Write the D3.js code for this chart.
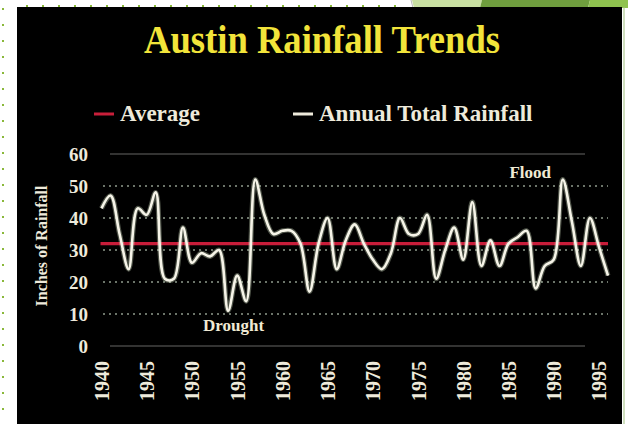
<!DOCTYPE html>
<html><head><meta charset="utf-8">
<script src="https://cdn.jsdelivr.net/npm/d3@7"></script>
<style>html,body{margin:0;padding:0;background:#fff;overflow:hidden;} svg{display:block;}</style>
</head><body>
<svg id="c" width="628" height="424"></svg>
<script>
// ---- data ----
const years = d3.range(1940, 1997);
const rainfall = [43,47,35,24,43,41,48,21,21,37,
                  26,29,28,30,11,22,14,52,41,35,
                  36,36,32,17,32,40,24,33,38,32,
                  27,24,29,40,35,35,41,21,30,37,
                  27,45,25,33,25,32,34,36,18,25,
                  27,52,39,25,40,31,22];
const averageRain = 32;
const yTicks = [0,10,20,30,40,50,60];
const xTicks = [1940,1945,1950,1955,1960,1965,1970,1975,1980,1985,1990,1995];
const annotations = [{label:"Drought", year:1954.6, value:4.8}, {label:"Flood", year:1987.4, value:52.6}];

const svg = d3.select("#c");
const serif = "'Liberation Serif','Times New Roman',serif";

// decorative slide frame
svg.append("polygon").attr("points","412,0 482,0 480,8 414,8").attr("fill","#c9e0a2");
svg.append("polygon").attr("points","482,0 590,0 588,8 480,8").attr("fill","#6f9e3e");
svg.append("polygon").attr("points","590,0 628,0 628,8 588,8").attr("fill","#8fc24f");
svg.append("line").attr("x1",411).attr("y1",0).attr("x2",413).attr("y2",8).attr("stroke","#bbb").attr("stroke-width",1);
const dotsL = d3.range(8, 424, 16);
svg.selectAll("rect.dl").data(dotsL).join("rect").attr("class","dl")
  .attr("x",2).attr("y",d=>d).attr("width",2).attr("height",2).attr("fill","#8ab83a");
const dotsT = d3.range(26, 400, 16);
svg.selectAll("rect.dt").data(dotsT).join("rect").attr("class","dt")
  .attr("x",d=>d).attr("y",5).attr("width",2).attr("height",2).attr("fill","#8ab83a");
svg.append("line").attr("x1",624).attr("y1",7).attr("x2",624).attr("y2",424).attr("stroke","#9fbf7f").attr("stroke-width",1);

// black panel
svg.append("rect").attr("x",17).attr("y",7).attr("width",605).attr("height",417).attr("fill","#000");

// scales
const x = d3.scaleLinear().domain([1940,1996]).range([101.5,608]);
const y = d3.scaleLinear().domain([0,60]).range([346,154]);

// title
svg.append("text").attr("x",322).attr("y",53).attr("text-anchor","middle")
  .attr("font-family",serif).attr("font-weight","bold").attr("font-size",40)
  .attr("textLength",356).attr("lengthAdjust","spacingAndGlyphs")
  .attr("fill","#f2e43a").text("Austin Rainfall Trends");

// legend
svg.append("line").attr("x1",94).attr("x2",114).attr("y1",114).attr("y2",114).attr("stroke","#c81f3a").attr("stroke-width",3);
svg.append("text").attr("x",120).attr("y",121).attr("font-family",serif).attr("font-weight","bold").attr("font-size",23)
  .attr("fill","#eeeadb").text("Average");
svg.append("line").attr("x1",293).attr("x2",313).attr("y1",114).attr("y2",114).attr("stroke","#eeeadb").attr("stroke-width",3);
svg.append("text").attr("x",319).attr("y",121).attr("font-family",serif).attr("font-weight","bold").attr("font-size",23)
  .attr("fill","#eeeadb").text("Annual Total Rainfall");

// gridlines
const grid = svg.append("g");
grid.selectAll("line.dot").data(yTicks.filter(t=>t>0 && t<60)).join("line").attr("class","dot")
  .attr("x1",103).attr("x2",608).attr("y1",d=>y(d)).attr("y2",d=>y(d))
  .attr("stroke","#8f9a8c").attr("stroke-width",1.6).attr("stroke-dasharray","2,4");
grid.selectAll("line.sol").data([0,60]).join("line").attr("class","sol")
  .attr("x1",110).attr("x2",585).attr("y1",d=>y(d)).attr("y2",d=>y(d))
  .attr("stroke","#454543").attr("stroke-width",1.5);

// y axis
const yAxis = svg.append("g").attr("transform","translate(88,0)")
  .call(d3.axisLeft(y).tickValues(yTicks).tickSize(0).tickPadding(0));
yAxis.select(".domain").remove();
yAxis.selectAll("text").attr("font-family",serif).attr("font-weight","bold").attr("font-size",19)
  .attr("fill","#eeeadb").attr("dy","0.35em");

// y axis title
svg.append("text").attr("transform","translate(47,246) rotate(-90)").attr("text-anchor","middle")
  .attr("font-family",serif).attr("font-weight","bold").attr("font-size",16)
  .attr("fill","#eeeadb").text("Inches of Rainfall");

// x axis
const xAxis = svg.append("g").attr("transform","translate(0,0)")
  .call(d3.axisBottom(x).tickValues(xTicks).tickFormat(d3.format("d")).tickSize(0));
xAxis.select(".domain").remove();
xAxis.selectAll("text").attr("y",0).attr("x",0).attr("dy","0.35em")
  .attr("transform","translate(0,361) rotate(-90)").attr("text-anchor","end")
  .attr("font-family",serif).attr("font-weight","bold").attr("font-size",20).attr("fill","#eeeadb");

// average line
svg.append("line").attr("x1",x(1940)-1).attr("x2",x(1996)).attr("y1",y(averageRain)).attr("y2",y(averageRain))
  .attr("stroke","#c81d3a").attr("stroke-width",3.2);

// rainfall line
const line = d3.line().x((d,i)=>x(years[i])).y(d=>y(d)).curve(d3.curveCatmullRom.alpha(0.5));
svg.append("path").attr("d",line(rainfall)).attr("fill","none")
  .attr("stroke","#d9e8c8").attr("stroke-opacity",0.35).attr("stroke-width",5);
svg.append("path").attr("d",line(rainfall)).attr("fill","none")
  .attr("stroke","#f6f4e8").attr("stroke-width",2.6).attr("stroke-linejoin","round");

// annotations
svg.selectAll("text.ann").data(annotations).join("text").attr("class","ann")
  .attr("x",d=>x(d.year)).attr("y",d=>y(d.value)).attr("text-anchor","middle")
  .attr("font-family",serif).attr("font-weight","bold").attr("font-size",17)
  .attr("fill","#f0ead4").text(d=>d.label);
</script>
</body></html>
